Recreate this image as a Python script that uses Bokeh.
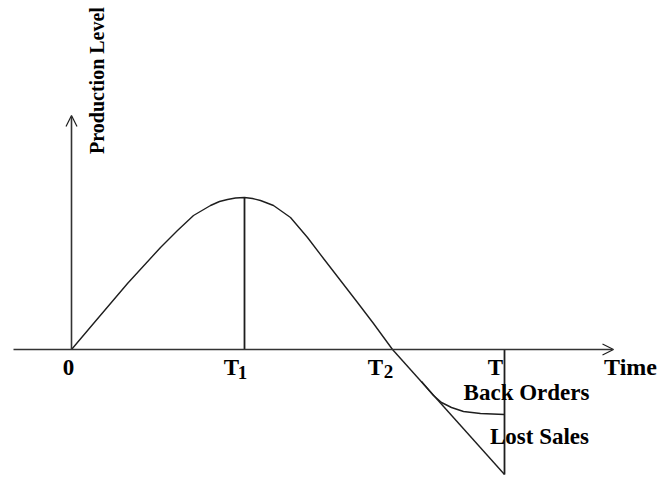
import math
from bokeh.plotting import figure
from bokeh.models import Range1d, Arrow, OpenHead
from bokeh.core.properties import value
from bokeh.embed import file_html
from bokeh.resources import INLINE

# Production curve (time, production level)
curve_x = [0, 22, 56, 89, 106, 122, 139, 148, 156, 164, 173, 181, 189, 202, 219, 236, 252, 269, 286, 302, 321]
curve_y = [0, 26, 66, 102, 119, 134, 144, 148, 150, 151.5, 152, 151, 149, 144, 132, 112, 91, 69, 47, 26, 0]

# Lost sales branch (straight) after T2
lost_x = [321, 433]
lost_y = [0, -125]

# Back orders branch (curving, flattening)
back_x = [350, 362, 370, 380, 392, 409, 433]
back_y = [-32, -46, -53, -58, -62, -64, -65]

# Time marks and their labels
tick_pos = [0, 173, 321, 433]
tick_main = ["0", "T", "T", "T"]
tick_sub = ["", "1", "2", ""]

# Vertical reference lines: at T1 up to the peak, at T down to the lost-sales end
t1_x = 173
t1_top = 152
t_x = 433
t_bottom = -125

x_axis_start = -58
x_axis_end = 542
y_axis_end = 234

FONT = value("Liberation Serif")
INK = "#1e1e1e"

p = figure(width=668, height=476, output_backend="svg", toolbar_location=None,
           x_range=Range1d(-71, 597), y_range=Range1d(-127, 349),
           min_border=0, outline_line_color=None)
p.axis.visible = False
p.grid.visible = False
p.background_fill_color = "white"

# axes with open arrowheads
p.add_layout(Arrow(end=OpenHead(size=11, line_width=1.2, line_color=INK),
                   x_start=x_axis_start, y_start=0, x_end=x_axis_end, y_end=0,
                   line_width=1.6, line_color="#333333"))
p.add_layout(Arrow(end=OpenHead(size=11, line_width=1.2, line_color=INK),
                   x_start=0, y_start=0, x_end=0, y_end=y_axis_end,
                   line_width=1.6, line_color="#333333"))

# curves
p.line(curve_x, curve_y, line_color=INK, line_width=1.4)
p.line(lost_x, lost_y, line_color=INK, line_width=1.4)
p.line(back_x, back_y, line_color=INK, line_width=1.4)

# vertical lines
p.segment(x0=[t1_x, t_x], y0=[0, 0], x1=[t1_x, t_x], y1=[t1_top, t_bottom],
          line_color=INK, line_width=1.8)

# tick labels
main_x = [tick_pos[0] - 3, tick_pos[1] - 13, tick_pos[2] - 17, tick_pos[3] - 9]
p.text(x=main_x, y=[-18] * 4, text=tick_main, text_font=FONT, text_font_style="bold",
       text_font_size="23px", text_align="center", text_baseline="middle", text_color="black")
sub_x = [tick_pos[1] - 2, tick_pos[2] - 4]
p.text(x=sub_x, y=[-23, -22], text=[tick_sub[1], tick_sub[2]], text_font=FONT,
       text_font_style="bold", text_font_size="19px", text_align="center",
       text_baseline="middle", text_color="black")

# other labels
p.text(x=[559], y=[-17], text=["Time"], text_font=FONT, text_font_style="bold",
       text_font_size="24px", text_align="center", text_baseline="middle", text_color="black")
p.text(x=[455], y=[-43], text=["Back Orders"], text_font=FONT, text_font_style="bold",
       text_font_size="23px", text_align="center", text_baseline="middle", text_color="black")
p.text(x=[468], y=[-87], text=["Lost Sales"], text_font=FONT, text_font_style="bold",
       text_font_size="23px", text_align="center", text_baseline="middle", text_color="black")
p.text(x=[25], y=[269], text=["Production Level"], angle=math.pi / 2, text_font=FONT,
       text_font_style="bold", text_font_size="20px", text_align="center",
       text_baseline="middle", text_color="black")

open("out.html", "w").write(file_html(p, INLINE))
